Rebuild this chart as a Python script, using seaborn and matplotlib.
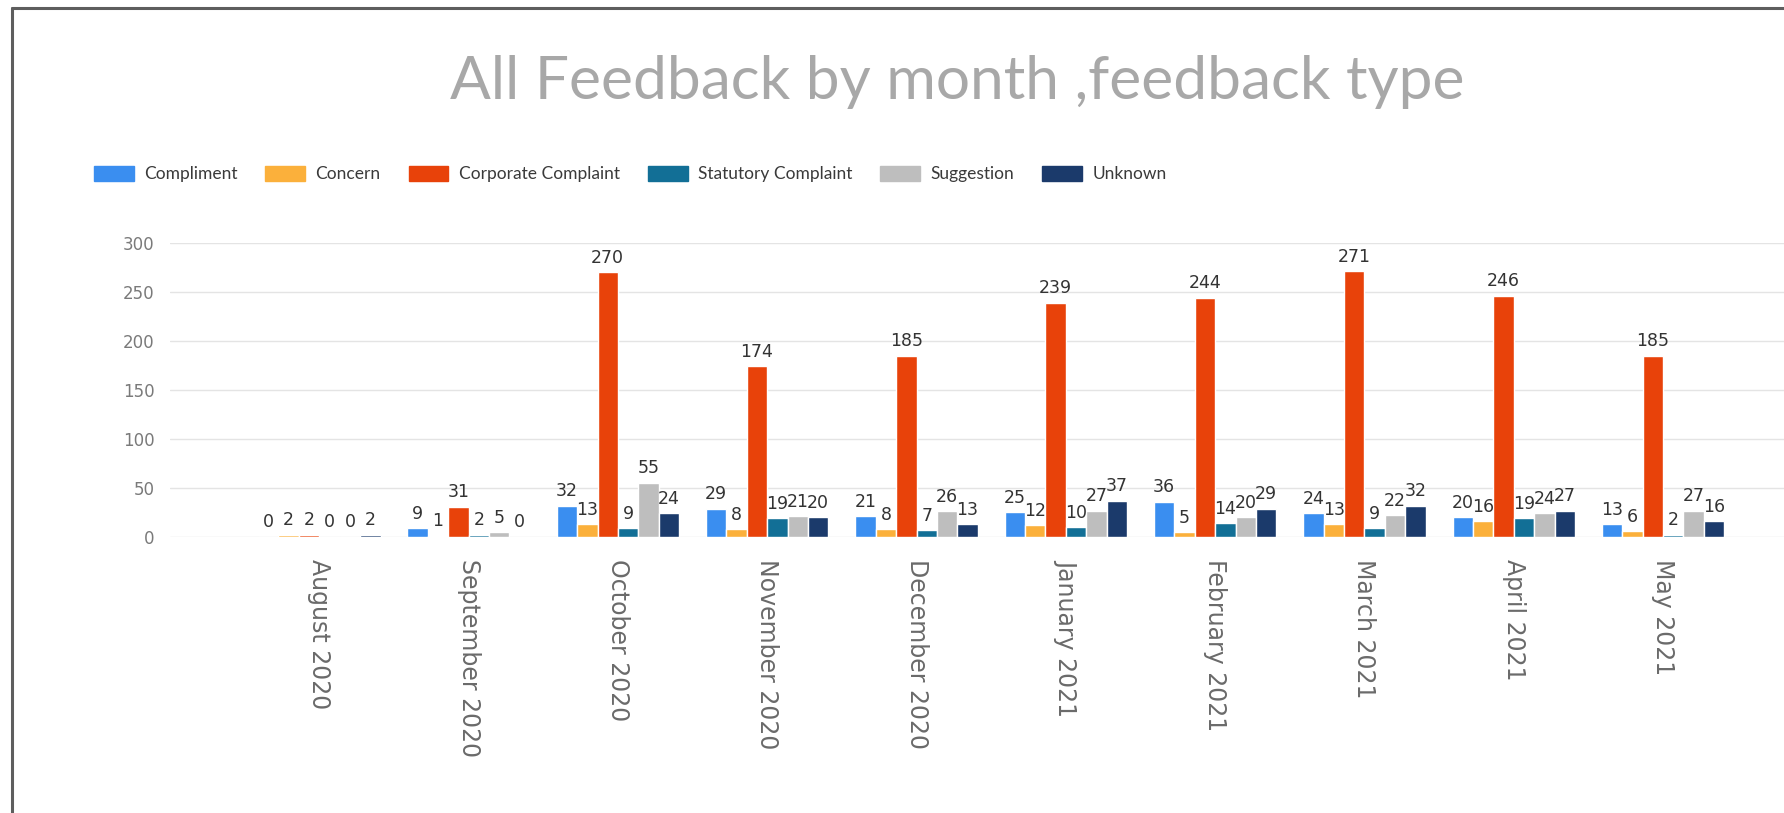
import pandas as pd
import numpy as np
import matplotlib.pyplot as plt
import seaborn as sns
from matplotlib.lines import Line2D

# ===== data =====
months = ["August 2020", "September 2020", "October 2020", "November 2020",
          "December 2020", "January 2021", "February 2021", "March 2021",
          "April 2021", "May 2021"]
feedback_types = ["Compliment", "Concern", "Corporate Complaint",
                  "Statutory Complaint", "Suggestion", "Unknown"]

compliment = [0, 9, 32, 29, 21, 25, 36, 24, 20, 13]
concern = [2, 1, 13, 8, 8, 12, 5, 13, 16, 6]
corporate = [2, 31, 270, 174, 185, 239, 244, 271, 246, 185]
statutory = [0, 2, 9, 19, 7, 10, 14, 9, 19, 2]
suggestion = [0, 5, 55, 21, 26, 27, 20, 22, 24, 27]
unknown = [2, 0, 24, 20, 13, 37, 29, 32, 27, 16]

palette = ["#3A8EF0", "#FBB03B", "#E8420A", "#126F96", "#BEBEBE", "#1B3A6B"]

series = [compliment, concern, corporate, statutory, suggestion, unknown]
rows = []
for ftype, vals in zip(feedback_types, series):
    for m, v in zip(months, vals):
        rows.append({"Month": m, "Type": ftype, "Count": v})
df = pd.DataFrame(rows)

# ===== figure =====
sns.set_style("white")
plt.rcParams['font.family'] = ['DejaVu Sans']

W, H = 1784, 813
fig = plt.figure(figsize=(W / 100, H / 100), dpi=100)
fig.patch.set_facecolor("white")
ax = fig.add_axes([170 / W, 1 - 537 / H, 1 - 170 / W, (537 - 242.7) / H])

sns.barplot(data=df, x="Month", y="Count", hue="Type", order=months,
            hue_order=feedback_types, palette=palette, saturation=1,
            width=0.82, ax=ax, legend=False, errorbar=None)

for cont in ax.containers:
    ax.bar_label(cont, fmt="%d", padding=4, fontsize=12.5, color="#333333", clip_on=False)

ax.set_ylim(0, 300)
ax.set_xlim(-1.0, 9.81)
ax.set_yticks(np.arange(0, 301, 50))
ax.grid(axis="y", color="#E4E4E4", linewidth=1)
ax.set_axisbelow(True)
sns.despine(ax=ax, left=True, bottom=True)
ax.set_xlabel("")
ax.set_ylabel("")
ax.tick_params(axis="y", length=0, pad=11, labelsize=12, labelcolor="#7A7A7A")
ax.tick_params(axis="x", length=0, pad=16, labelsize=17, labelcolor="#6A6A6A")
for lbl in ax.get_xticklabels():
    lbl.set_rotation(270)
    lbl.set_va("top")
    lbl.set_ha("center")

# legend
handles = [plt.Rectangle((0, 0), 1, 1, color=c) for c in palette]
fig.legend(handles, feedback_types, loc="center left",
           bbox_to_anchor=(78 / W, 1 - 174 / H), ncol=6, frameon=False,
           prop={"family": ["Lato", "DejaVu Sans"], "size": 12.5},
           handlelength=2.3, handleheight=1.0,
           handletextpad=0.6, columnspacing=1.6, labelcolor="#3A3A3A")

# title
fig.text(957 / W, 1 - 82 / H, "All Feedback by month ,feedback type",
         ha="center", va="center", fontsize=43.5, color="#A8A8A8",
         family=["Lato", "DejaVu Sans"])

# card frame
fig.add_artist(Line2D([12 / W, 1.0], [1 - 8 / H, 1 - 8 / H], color="#5E5E5E", lw=2.2))
fig.add_artist(Line2D([12 / W, 12 / W], [0, 1 - 8 / H], color="#5E5E5E", lw=2.2))

plt.savefig("out.png", dpi=100, facecolor=fig.get_facecolor())
